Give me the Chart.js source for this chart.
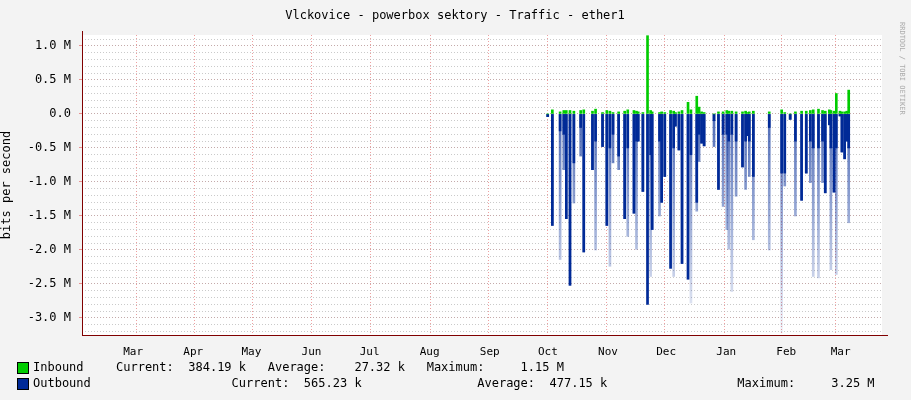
<!DOCTYPE html>
<html>
<head>
<meta charset="utf-8">
<script src="https://cdn.jsdelivr.net/npm/chart.js@4"></script>
<style>
  body { margin: 0; background: #f3f3f3; }
  #wrap { width: 911px; height: 400px; }
</style>
</head>
<body>
<div id="wrap"><canvas id="c" width="911" height="400"></canvas></div>
<script>
// x values are days counted from 1 March of the first year
const monthNames = ['Mar', 'Apr', 'May', 'Jun', 'Jul', 'Aug', 'Sep', 'Oct', 'Nov', 'Dec', 'Jan', 'Feb', 'Mar'];
const monthStarts = [0, 31, 61, 92, 122, 153, 184, 214, 245, 275, 306, 337, 365];

// outbound spikes (M bits/s, negative), solid part and faded extent
const outDays = [229.4, 231.8, 235.8, 237.7, 239.0, 240.9, 242.9, 246.4, 248.0, 252.5, 254.1, 257.7, 259.9, 261.5, 263.1, 266.0, 269.1, 270.7, 273.9, 275.2, 276.1, 278.5, 280.9, 282.5, 283.3, 287.1, 288.2, 289.8, 292.8, 294.4, 295.3, 297.1, 298.7, 301.8, 303.3, 306.3, 307.5, 308.8, 310.1, 315.2, 317.5, 319.9, 321.8, 322.8, 324.4, 326.6, 329.9, 331.5, 332.3, 333.4, 335.5, 343.7, 350.1, 351.7, 354.5, 357.2, 360.4, 362.8, 364.9, 366.4, 369.1, 371.2, 372.6, 374.7, 375.5, 377.1, 378.3, 380.2, 381.2, 382.6, 383.7, 384.7];
const outSolid = [-0.04, -1.64, -0.25, -0.3, -1.54, -2.52, -0.72, -0.2, -2.03, -0.82, -0.4, -0.48, -1.64, -0.5, -0.3, -0.62, -1.54, -0.5, -1.46, -0.4, -0.40, -1.14, -2.80, -0.6, -1.70, -0.4, -1.30, -0.92, -2.27, -0.5, -0.18, -0.53, -2.20, -2.43, -0.6, -1.30, -0.3, -0.43, -0.47, -0.1, -1.11, -0.3, -0.3, -0.4, -0.3, -0.4, -0.78, -0.4, -0.32, -0.4, -0.92, -0.2, -0.87, -0.87, -0.08, -0.4, -1.27, -0.87, -0.4, -0.5, -0.5, -0.4, -1.16, -0.16, -0.5, -1.15, -0.5, -0.03, -0.56, -0.66, -0.40, -0.5];
const outFaded = [-0.04, -1.64, -2.14, -0.82, -1.54, -2.52, -1.31, -0.62, -2.03, -0.82, -2.0, -0.48, -1.64, -2.24, -0.72, -0.82, -1.54, -1.8, -1.46, -1.99, -0.40, -1.14, -2.80, -2.39, -1.70, -1.5, -1.30, -0.92, -2.27, -2.39, -0.18, -0.53, -2.20, -2.43, -2.78, -1.43, -0.7, -0.43, -0.47, -0.48, -1.11, -1.36, -1.7, -1.99, -2.61, -1.21, -0.78, -1.11, -0.32, -0.92, -1.85, -2.0, -3.22, -1.06, -0.08, -1.5, -1.27, -0.87, -1.01, -2.39, -2.41, -1.01, -1.16, -0.16, -2.29, -1.15, -2.36, -0.03, -0.56, -0.66, -0.40, -1.6];
const inVals = [0.0, 0.06, 0.03, 0.05, 0.05, 0.05, 0.04, 0.05, 0.06, 0.04, 0.07, 0.02, 0.05, 0.04, 0.02, 0.03, 0.04, 0.06, 0.05, 0.04, 0.03, 0.02, 1.15, 0.05, 0.03, 0.02, 0.03, 0.02, 0.05, 0.04, 0.02, 0.03, 0.05, 0.17, 0.06, 0.26, 0.1, 0.03, 0.02, 0.0, 0.03, 0.03, 0.05, 0.04, 0.04, 0.03, 0.03, 0.04, 0.02, 0.03, 0.04, 0.03, 0.06, 0.02, 0.0, 0.03, 0.04, 0.04, 0.05, 0.06, 0.07, 0.05, 0.04, 0.06, 0.05, 0.04, 0.3, 0.04, 0.03, 0.03, 0.04, 0.35];

const legendRows = [
  ['Inbound ', 'Current:  384.19 k   Average:    27.32 k   Maximum:     1.15 M'],
  ['Outbound', '                Current:  565.23 k                Average:  477.15 k                  Maximum:     3.25 M']
];

const mono = 'DejaVu Sans Mono';
const inColor = '#00cc00';
const outColor = '#002a97';

const pts = (ys) => outDays.map((d, i) => ({ x: d, y: ys[i] }));

function fadeFill(ctx) {
  const chart = ctx.chart;
  const y = chart.scales.y;
  if (!y || !chart.chartArea) return 'rgba(0,42,151,0.3)';
  const y0 = y.getPixelForValue(0), y1 = y.getPixelForValue(-3.2);
  if (!isFinite(y0) || !isFinite(y1) || y0 === y1) return 'rgba(0,42,151,0.3)';
  const g = chart.ctx.createLinearGradient(0, y0, 0, y1);
  g.addColorStop(0, 'rgba(0,42,151,0.7)');
  g.addColorStop(1, 'rgba(0,42,151,0.05)');
  return g;
}

const extras = {
  id: 'extras',
  beforeDraw(chart) {
    const a = chart.chartArea;
    chart.ctx.save();
    chart.ctx.fillStyle = '#fff';
    chart.ctx.fillRect(a.left, a.top, a.right - a.left, a.bottom - a.top);
    chart.ctx.restore();
  },
  afterDraw(chart) {
    const c = chart.ctx;
    const a = chart.chartArea;
    c.save();
    c.fillStyle = '#000';
    c.font = '12px ' + mono;
    c.textAlign = 'center';
    c.fillText('Vlckovice - powerbox sektory - Traffic - ether1', 455, 19);
    // axis lines
    c.strokeStyle = '#800000';
    c.lineWidth = 1;
    c.beginPath();
    c.moveTo(a.left, a.bottom + 0.5); c.lineTo(a.right + 6, a.bottom + 0.5);
    c.moveTo(a.left + 0.5, a.bottom); c.lineTo(a.left + 0.5, a.top - 4);
    c.stroke();
    // vertical watermark
    c.save();
    c.translate(900, 22);
    c.rotate(Math.PI / 2);
    c.fillStyle = '#aaa';
    c.font = '7px ' + mono;
    c.textAlign = 'left';
    c.fillText('RRDTOOL / TOBI OETIKER', 0, 0);
    c.restore();
    // legend
    c.textAlign = 'left';
    c.font = '12px ' + mono;
    [inColor, outColor].forEach((col, i) => {
      const yy = 368 + i * 16;
      c.fillStyle = col;
      c.fillRect(18, yy - 5, 10, 10);
      c.strokeStyle = '#000';
      c.strokeRect(17.5, yy - 5.5, 11, 11);
      c.fillStyle = '#000';
      c.textBaseline = 'middle';
      c.fillText(legendRows[i][0], 33, yy);
      c.fillText(legendRows[i][1], 116, yy);
    });
    c.restore();
  }
};

new Chart(document.getElementById('c'), {
  type: 'bar',
  data: {
    datasets: [
      { data: pts(outFaded), backgroundColor: fadeFill, barThickness: 2, grouped: false, order: 3 },
      { data: pts(outSolid), backgroundColor: outColor, barThickness: 2, grouped: false, order: 2 },
      { data: outDays.map((d, i) => ({ x: d, y: inVals[i] })), backgroundColor: inColor, barThickness: 2, grouped: false, order: 1 }
    ]
  },
  options: {
    responsive: false,
    animation: false,
    layout: { padding: { top: 35, right: 29, left: 0, bottom: 0 } },
    plugins: { legend: { display: false }, tooltip: { enabled: false } },
    scales: {
      x: {
        type: 'linear', min: 5, max: 386,
        afterBuildTicks: s => { s.ticks = monthStarts.map(v => ({ value: v + 15.5 })); },
        afterFit: s => { s.height = 65; },
        ticks: {
          autoSkip: false, maxRotation: 0, color: '#000', font: { family: mono, size: 11 },
          callback: (v, i) => monthNames[i]
        },
        grid: { display: false },
        border: { display: false }
      },
      xg: {
        type: 'linear', min: 5, max: 386, position: 'bottom', display: true,
        afterBuildTicks: s => { s.ticks = monthStarts.filter(v => v > 5).map(v => ({ value: v })); },
        afterFit: s => { s.height = 0; },
        ticks: { display: false },
        grid: { color: 'rgba(230,120,120,0.7)', drawTicks: false },
        border: { display: false, dash: [1, 2] }
      },
      y: {
        min: -3.25, max: 1.16,
        afterBuildTicks: s => {
          const t = [];
          for (let v = -3.0; v <= 1.0001; v += 0.5) t.push({ value: Math.round(v * 10) / 10 });
          s.ticks = t;
        },
        afterFit: s => { s.width = 82; },
        title: { display: true, text: 'bits per second', color: '#000', font: { family: mono, size: 12 }, padding: 0 },
        ticks: {
          color: '#000', font: { family: mono, size: 12 }, padding: 8,
          callback: v => v === 0 ? '0.0' : v.toFixed(1) + ' M'
        },
        grid: { color: 'rgba(230,120,120,0.8)', tickLength: 3 },
        border: { display: false, dash: [1, 2] }
      },
      yg: {
        min: -3.25, max: 1.16, display: true, position: 'left',
        afterBuildTicks: s => {
          const t = [];
          for (let v = -32; v <= 11; v++) t.push({ value: v / 10 });
          s.ticks = t;
        },
        afterFit: s => { s.width = 0; },
        ticks: { display: false },
        grid: { color: 'rgba(180,180,180,0.7)', drawTicks: false },
        border: { display: false, dash: [1, 2] }
      }
    }
  },
  plugins: [extras]
});
</script>
</body>
</html>
